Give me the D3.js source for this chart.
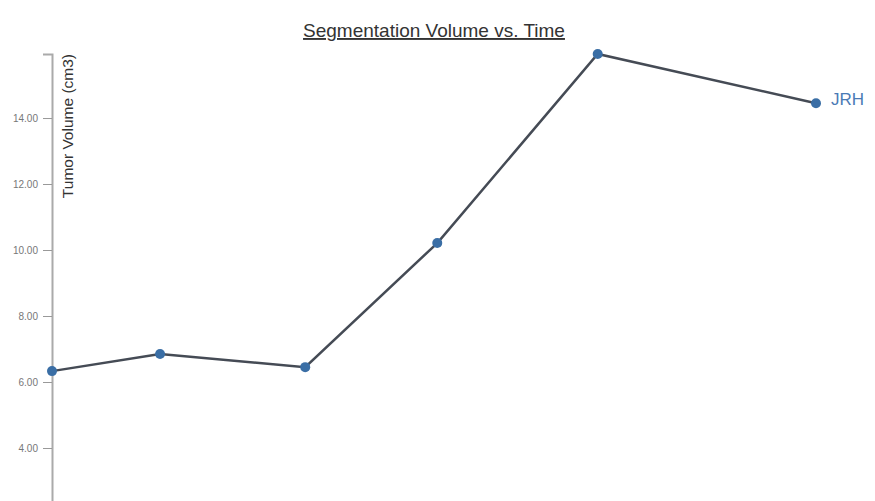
<!DOCTYPE html>
<html>
<head>
<meta charset="utf-8">
<script src="https://cdn.jsdelivr.net/npm/d3@7"></script>
<style>
  body { margin: 0; overflow: hidden; background: #fff; font-family: "Liberation Sans", Arial, sans-serif; }
</style>
</head>
<body>
<div id="chart"></div>
<script>
// days since first scan, and segmented volume in cm3
const scanDays = [0, 99, 232, 353, 500, 700];
const volumes = [6.33, 6.85, 6.45, 10.21, 15.94, 14.45];
const seriesName = "JRH";
const yTicks = [4, 6, 8, 10, 12, 14];

const MARGIN = {TOP: 54, BOTTOM: 20, LEFT: 52, RIGHT: 59};
const WIDTH = 875 - MARGIN.LEFT - MARGIN.RIGHT;
const HEIGHT = 526;

const svg = d3.select("#chart")
    .append("svg")
        .attr("width", 875)
        .attr("height", HEIGHT + MARGIN.TOP + MARGIN.BOTTOM)
    .append("g")
        .attr("transform", `translate(${MARGIN.LEFT}, ${MARGIN.TOP})`);

const data = scanDays.map((d, i) => ({day: d, vol: volumes[i]}));

const x = d3.scaleLinear()
    .domain(d3.extent(scanDays))
    .range([0, WIDTH]);
const y = d3.scaleLinear()
    .domain([0, d3.max(volumes)])
    .range([HEIGHT, 0]);

// Title
svg.append("text")
    .attr("x", 382)
    .attr("y", -17)
    .attr("text-anchor", "middle")
    .attr("font-size", 19)
    .attr("fill", "#333")
    .attr("text-decoration", "underline")
    .text("Segmentation Volume vs. Time");

// Y axis
const yAxis = svg.append("g")
    .call(d3.axisLeft(y).tickValues(yTicks).tickFormat(d3.format(".2f"))
        .tickSize(9).tickPadding(5));
yAxis.select(".domain").attr("stroke", "#aaa").attr("stroke-width", 2);
yAxis.selectAll(".tick line").attr("stroke", "#999");
yAxis.selectAll(".tick text")
    .attr("fill", "#777")
    .attr("font-size", 10)
    .attr("font-family", "Liberation Sans, Arial, sans-serif");

svg.append("text")
    .attr("transform", "rotate(-90)")
    .attr("x", 0)
    .attr("y", 21)
    .attr("text-anchor", "end")
    .attr("font-size", 15.5)
    .attr("fill", "#333")
    .text("Tumor Volume (cm3)");

// Line
const line = d3.line()
    .x(d => x(d.day))
    .y(d => y(d.vol));

svg.append("path")
    .datum(data)
    .attr("fill", "none")
    .attr("stroke", "#454b55")
    .attr("stroke-width", 2.5)
    .attr("d", line);

svg.selectAll("circle")
    .data(data)
    .enter()
    .append("circle")
        .attr("cx", d => x(d.day))
        .attr("cy", d => y(d.vol))
        .attr("r", 5)
        .attr("fill", "#3a6ea5");

// Series label at the last point
const last = data[data.length - 1];
svg.append("text")
    .attr("x", x(last.day) + 15)
    .attr("y", y(last.vol) - 4)
    .attr("dy", "0.35em")
    .attr("font-size", 17)
    .attr("fill", "#4a7ab5")
    .text(seriesName);
</script>
</body>
</html>
